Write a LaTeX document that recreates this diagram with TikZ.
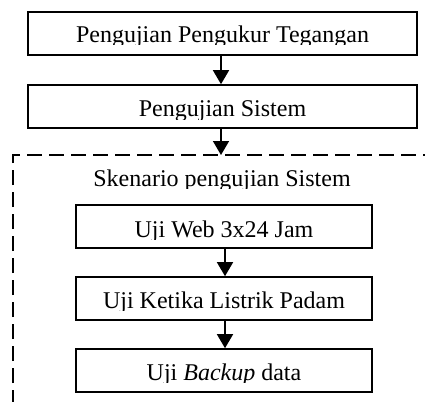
\documentclass[tikz,border=0pt]{standalone}
\usepackage{fontspec}
\setmainfont{Liberation Serif}
\usetikzlibrary{arrows.meta}
\begin{document}
\begin{tikzpicture}[x=1pt,y=-1pt,
  box/.style={draw, line width=1.6pt, minimum width=#1, minimum height=43pt, inner sep=0pt},
  lbl/.style={anchor=base, inner sep=0pt, font=\fontsize{24}{28}\selectfont},
  flow/.style={line width=1.6pt, -{Triangle[width=16pt,length=14pt]}},
  frame/.style={line width=1.5pt, dash pattern=on 15pt off 7pt}]
\useasboundingbox (0,0) rectangle (425,401);
% outer boxes
\node[box=389pt] (b1) at (222.5,33.5) {};
\node[box=389pt] (b2) at (222.5,106.5) {};
% dashed frame
\coordinate (fbl) at (13,405);
\coordinate (ftl) at (13,155);
\coordinate (ftr) at (430,155);
\draw[frame] (fbl) -- (ftl) -- (ftr);
% inner boxes
\node[box=296pt] (b3) at (224,226.5) {};
\node[box=296pt] (b4) at (224,298.5) {};
\node[box=296pt] (b5) at (224,370.5) {};
% texts (clipped below baseline as in the original)
\begin{scope}\clip (28,12) rectangle (417,45);
\node[lbl] (t1) at (222.5,43) {Pengujian Pengukur Tegangan};\end{scope}
\begin{scope}\clip (28,85) rectangle (417,119);
\node[lbl] (t2) at (222.5,117) {Pengujian Sistem};\end{scope}
\begin{scope}\clip (14,157) rectangle (425,188);
\node[lbl] (t0) at (222,186) {Skenario pengujian Sistem};\end{scope}
\begin{scope}\clip (76,205) rectangle (372,239);
\node[lbl] (t3) at (224,237) {Uji Web 3x24 Jam};\end{scope}
\begin{scope}\clip (76,277) rectangle (372,310);
\node[lbl] (t4) at (224,308) {Uji Ketika Listrik Padam};\end{scope}
\begin{scope}\clip (76,349) rectangle (372,382);
\node[lbl] (t5) at (224,380) {Uji \textit{Backup} data};\end{scope}
% connectors
\coordinate (a1) at (221,0);
\coordinate (d) at (221,155);
\draw[flow] (b1.south -| a1) -- (b2.north -| a1);
\draw[flow] (b2.south -| a1) -- (d);
\coordinate (a2) at (225,0);
\draw[flow] (b3.south -| a2) -- (b4.north -| a2);
\draw[flow] (b4.south -| a2) -- (b5.north -| a2);
\end{tikzpicture}
\end{document}
